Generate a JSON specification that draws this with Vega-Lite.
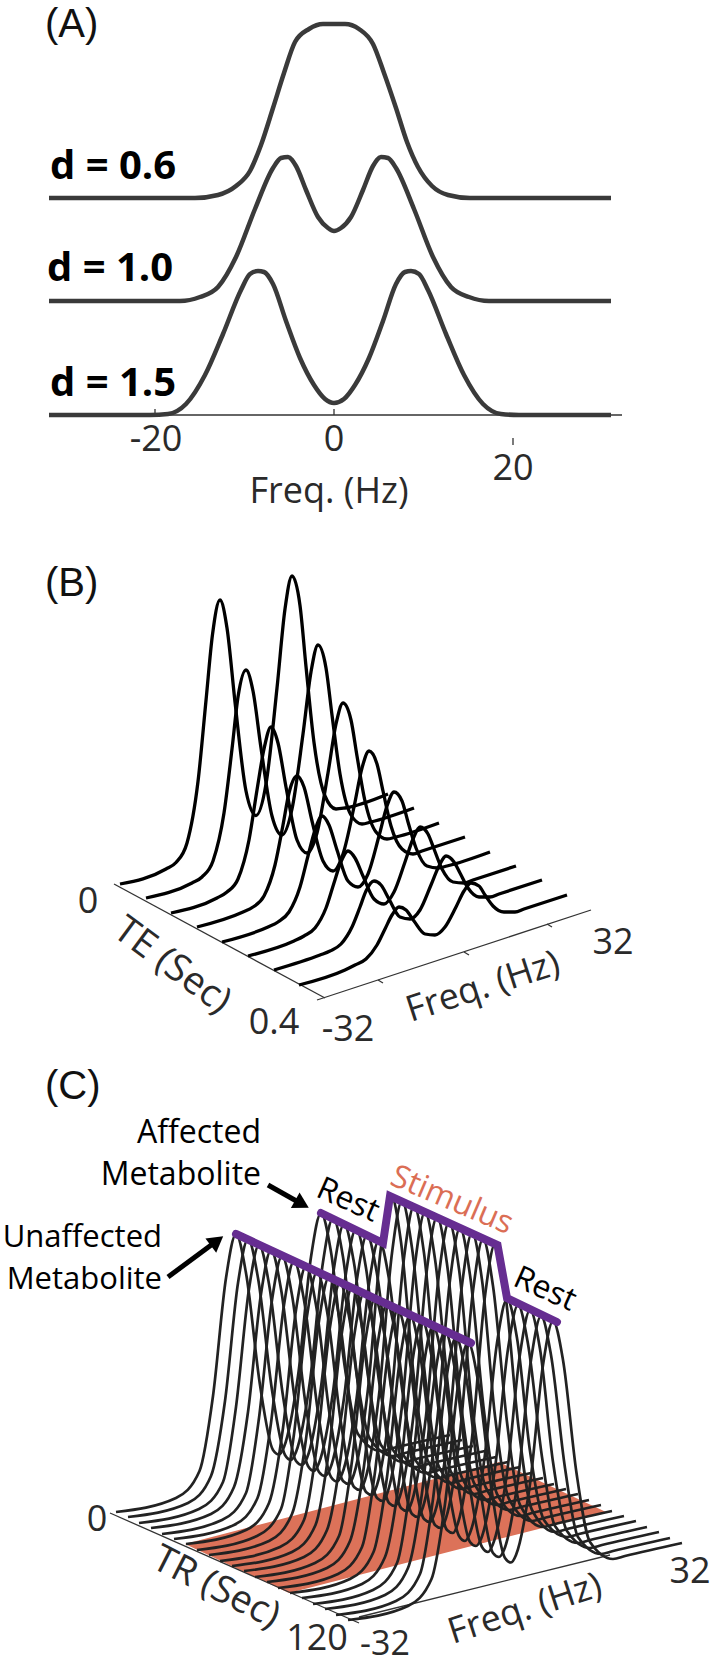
{"$schema":"https://vega.github.io/schema/vega-lite/v6.json","width":712,"height":1667,"padding":0,"autosize":{"type":"none"},"background":"white","config":{"view":{"stroke":null}},
"encoding":{"x":{"field":"x","type":"quantitative","scale":{"domain":[0,712]},"axis":null},"y":{"field":"y","type":"quantitative","scale":{"domain":[1667,0]},"axis":null}},
"layer":[
{"data":{"values":[{"x":185,"y":1544,"y2":1544},{"x":289,"y":1517,"y2":1593},{"x":499,"y":1462,"y2":1539},{"x":606,"y":1512,"y2":1512}]},"mark":{"type":"area","color":"#DC7259","opacity":1},"encoding":{"y2":{"field":"y2"}}},
{"data":{"values":[
{"s":"ax","x":49,"y":415},{"s":"ax","x":622,"y":415},{"s":"t1","x":155,"y":409},{"s":"t1","x":155,"y":415},{"s":"t2","x":334,"y":409},{"s":"t2","x":334,"y":415},{"s":"t3","x":513,"y":438},{"s":"t3","x":513,"y":445},
{"s":"bte","x":114,"y":884},{"s":"bte","x":325,"y":998},{"s":"bf","x":317,"y":1000},{"s":"bf","x":591,"y":910},{"s":"bt1","x":378,"y":980},{"s":"bt1","x":383,"y":983},{"s":"bt2","x":464,"y":952},{"s":"bt2","x":469,"y":955},{"s":"bt3","x":547,"y":924},{"s":"bt3","x":552,"y":927},
{"s":"cte","x":110,"y":1513},{"s":"cte","x":359,"y":1623},{"s":"cf","x":359,"y":1617},{"s":"cf","x":610,"y":1555}
]},"mark":{"type":"line","color":"#333333","strokeWidth":1.3},"encoding":{"detail":{"field":"s"}}},
{"data":{"values":[
{"s":"a1","x":49,"y":198},{"s":"a1","x":195,"y":198},{"s":"a1","x":218,"y":195},{"s":"a1","x":236,"y":186},{"s":"a1","x":250,"y":171},{"s":"a1","x":261,"y":145},{"s":"a1","x":273,"y":108},{"s":"a1","x":284,"y":73},{"s":"a1","x":295,"y":42},{"s":"a1","x":309,"y":29},{"s":"a1","x":323,"y":24},{"s":"a1","x":345,"y":24},{"s":"a1","x":359,"y":29},{"s":"a1","x":373,"y":44},{"s":"a1","x":384,"y":73},{"s":"a1","x":396,"y":108},{"s":"a1","x":407,"y":142},{"s":"a1","x":418,"y":167},{"s":"a1","x":432,"y":186},{"s":"a1","x":448,"y":195},{"s":"a1","x":470,"y":198},{"s":"a1","x":611,"y":198},
{"s":"a2","x":49,"y":301},{"s":"a2","x":180,"y":301},{"s":"a2","x":200,"y":297},{"s":"a2","x":218,"y":287},{"s":"a2","x":236,"y":257},{"s":"a2","x":255,"y":209},{"s":"a2","x":273,"y":168},{"s":"a2","x":281,"y":158},{"s":"a2","x":288,"y":157},{"s":"a2","x":296,"y":166},{"s":"a2","x":306,"y":190},{"s":"a2","x":318,"y":217},{"s":"a2","x":328,"y":228},{"s":"a2","x":334,"y":231},{"s":"a2","x":341,"y":228},{"s":"a2","x":351,"y":217},{"s":"a2","x":363,"y":190},{"s":"a2","x":373,"y":166},{"s":"a2","x":381,"y":157},{"s":"a2","x":388,"y":158},{"s":"a2","x":396,"y":168},{"s":"a2","x":414,"y":209},{"s":"a2","x":433,"y":257},{"s":"a2","x":451,"y":287},{"s":"a2","x":469,"y":297},{"s":"a2","x":489,"y":301},{"s":"a2","x":611,"y":301},
{"s":"a3","x":49,"y":415},{"s":"a3","x":150,"y":415},{"s":"a3","x":168,"y":414},{"s":"a3","x":186,"y":404},{"s":"a3","x":205,"y":375},{"s":"a3","x":223,"y":334},{"s":"a3","x":241,"y":290},{"s":"a3","x":250,"y":274},{"s":"a3","x":258,"y":271},{"s":"a3","x":264,"y":272},{"s":"a3","x":273,"y":284},{"s":"a3","x":286,"y":321},{"s":"a3","x":300,"y":358},{"s":"a3","x":314,"y":385},{"s":"a3","x":325,"y":399},{"s":"a3","x":334,"y":403},{"s":"a3","x":344,"y":399},{"s":"a3","x":355,"y":385},{"s":"a3","x":369,"y":358},{"s":"a3","x":383,"y":321},{"s":"a3","x":396,"y":284},{"s":"a3","x":405,"y":272},{"s":"a3","x":411,"y":271},{"s":"a3","x":419,"y":274},{"s":"a3","x":428,"y":290},{"s":"a3","x":446,"y":334},{"s":"a3","x":464,"y":375},{"s":"a3","x":483,"y":404},{"s":"a3","x":501,"y":414},{"s":"a3","x":519,"y":415},{"s":"a3","x":611,"y":415}
]},"mark":{"type":"line","color":"#3a3a3a","strokeWidth":4.5,"interpolate":"monotone"},"encoding":{"detail":{"field":"s"}}},
{"data":{"values":[
{"s":"b0","x":120,"y":884},{"s":"b0","x":166,"y":869},{"s":"b0","x":176,"y":862.5},{"s":"b0","x":187,"y":843},{"s":"b0","x":198,"y":781.5},{"s":"b0","x":206,"y":700.5},{"s":"b0","x":212.5,"y":634.5},{"s":"b0","x":220,"y":600},{"s":"b0","x":227,"y":628},{"s":"b0","x":235,"y":702},{"s":"b0","x":246,"y":791},{"s":"b0","x":256,"y":815.5},{"s":"b0","x":266,"y":784},{"s":"b0","x":277,"y":688},{"s":"b0","x":285,"y":609},{"s":"b0","x":292,"y":576},{"s":"b0","x":300,"y":605.5},{"s":"b0","x":306,"y":666.5},{"s":"b0","x":314,"y":742.5},{"s":"b0","x":325,"y":796},{"s":"b0","x":336,"y":809},{"s":"b0","x":345,"y":808},{"s":"b0","x":388,"y":794},
{"s":"b1","x":146,"y":898},{"s":"b1","x":192,"y":883},{"s":"b1","x":202,"y":877},{"s":"b1","x":213,"y":861},{"s":"b1","x":224,"y":813},{"s":"b1","x":232,"y":749},{"s":"b1","x":238,"y":697},{"s":"b1","x":246,"y":670},{"s":"b1","x":253,"y":691},{"s":"b1","x":261,"y":748},{"s":"b1","x":272,"y":816},{"s":"b1","x":282,"y":835},{"s":"b1","x":292,"y":809},{"s":"b1","x":303,"y":734},{"s":"b1","x":311,"y":672},{"s":"b1","x":318,"y":645},{"s":"b1","x":326,"y":668},{"s":"b1","x":332,"y":715},{"s":"b1","x":340,"y":774},{"s":"b1","x":351,"y":815},{"s":"b1","x":362,"y":824},{"s":"b1","x":371,"y":822},{"s":"b1","x":414,"y":808},
{"s":"b2","x":171,"y":913},{"s":"b2","x":217,"y":898},{"s":"b2","x":227,"y":892},{"s":"b2","x":238,"y":879},{"s":"b2","x":249,"y":840},{"s":"b2","x":257,"y":790},{"s":"b2","x":264,"y":749},{"s":"b2","x":271,"y":727},{"s":"b2","x":278,"y":743},{"s":"b2","x":286,"y":787},{"s":"b2","x":297,"y":840},{"s":"b2","x":307,"y":853},{"s":"b2","x":317,"y":833},{"s":"b2","x":328,"y":773},{"s":"b2","x":336,"y":724},{"s":"b2","x":343,"y":703},{"s":"b2","x":351,"y":720},{"s":"b2","x":357,"y":756},{"s":"b2","x":365,"y":801},{"s":"b2","x":376,"y":832},{"s":"b2","x":387,"y":839},{"s":"b2","x":396,"y":837},{"s":"b2","x":439,"y":823},
{"s":"b3","x":197,"y":927},{"s":"b3","x":243,"y":912},{"s":"b3","x":253,"y":907},{"s":"b3","x":264,"y":896},{"s":"b3","x":275,"y":865},{"s":"b3","x":283,"y":825},{"s":"b3","x":289,"y":793},{"s":"b3","x":297,"y":776},{"s":"b3","x":304,"y":787},{"s":"b3","x":312,"y":821},{"s":"b3","x":323,"y":861},{"s":"b3","x":333,"y":871},{"s":"b3","x":343,"y":854},{"s":"b3","x":354,"y":807},{"s":"b3","x":362,"y":768},{"s":"b3","x":369,"y":751},{"s":"b3","x":377,"y":764},{"s":"b3","x":383,"y":791},{"s":"b3","x":391,"y":826},{"s":"b3","x":402,"y":849},{"s":"b3","x":413,"y":854},{"s":"b3","x":422,"y":851},{"s":"b3","x":465,"y":837},
{"s":"b4","x":222,"y":942},{"s":"b4","x":268,"y":927},{"s":"b4","x":278,"y":922},{"s":"b4","x":289,"y":912},{"s":"b4","x":300,"y":887},{"s":"b4","x":308,"y":856},{"s":"b4","x":315,"y":830},{"s":"b4","x":322,"y":816},{"s":"b4","x":329,"y":825},{"s":"b4","x":337,"y":850},{"s":"b4","x":348,"y":881},{"s":"b4","x":358,"y":887},{"s":"b4","x":368,"y":874},{"s":"b4","x":379,"y":836},{"s":"b4","x":387,"y":806},{"s":"b4","x":394,"y":792},{"s":"b4","x":402,"y":801},{"s":"b4","x":408,"y":822},{"s":"b4","x":416,"y":848},{"s":"b4","x":427,"y":866},{"s":"b4","x":438,"y":868},{"s":"b4","x":447,"y":866},{"s":"b4","x":490,"y":852},
{"s":"b5","x":248,"y":956},{"s":"b5","x":294,"y":941},{"s":"b5","x":304,"y":936},{"s":"b5","x":315,"y":928},{"s":"b5","x":326,"y":908},{"s":"b5","x":334,"y":883},{"s":"b5","x":340.5,"y":863},{"s":"b5","x":348,"y":851},{"s":"b5","x":355,"y":858},{"s":"b5","x":363,"y":876},{"s":"b5","x":374,"y":899},{"s":"b5","x":384,"y":904},{"s":"b5","x":394,"y":892},{"s":"b5","x":405,"y":862},{"s":"b5","x":413,"y":839},{"s":"b5","x":420,"y":827},{"s":"b5","x":428,"y":834},{"s":"b5","x":434,"y":849},{"s":"b5","x":442,"y":869},{"s":"b5","x":453,"y":882},{"s":"b5","x":464,"y":883},{"s":"b5","x":473,"y":880},{"s":"b5","x":516,"y":866},
{"s":"b6","x":274,"y":970},{"s":"b6","x":320,"y":955},{"s":"b6","x":330,"y":951},{"s":"b6","x":341,"y":944},{"s":"b6","x":352,"y":927},{"s":"b6","x":360,"y":907},{"s":"b6","x":366,"y":891},{"s":"b6","x":374,"y":881},{"s":"b6","x":381,"y":885},{"s":"b6","x":389,"y":899},{"s":"b6","x":400,"y":917},{"s":"b6","x":410,"y":919},{"s":"b6","x":420,"y":910},{"s":"b6","x":431,"y":885},{"s":"b6","x":439,"y":866},{"s":"b6","x":446,"y":856},{"s":"b6","x":454,"y":862},{"s":"b6","x":460,"y":873},{"s":"b6","x":468,"y":888},{"s":"b6","x":479,"y":897},{"s":"b6","x":490,"y":897},{"s":"b6","x":499,"y":894},{"s":"b6","x":542,"y":880},
{"s":"b7","x":299,"y":985},{"s":"b7","x":345,"y":970},{"s":"b7","x":355,"y":965},{"s":"b7","x":366,"y":959},{"s":"b7","x":377,"y":945},{"s":"b7","x":385,"y":929},{"s":"b7","x":392,"y":915},{"s":"b7","x":399,"y":907},{"s":"b7","x":406,"y":910},{"s":"b7","x":414,"y":921},{"s":"b7","x":425,"y":934},{"s":"b7","x":435,"y":935},{"s":"b7","x":445,"y":927},{"s":"b7","x":456,"y":907},{"s":"b7","x":464,"y":891},{"s":"b7","x":471,"y":883},{"s":"b7","x":479,"y":886},{"s":"b7","x":485,"y":895},{"s":"b7","x":493,"y":906},{"s":"b7","x":504,"y":912},{"s":"b7","x":515,"y":912},{"s":"b7","x":524,"y":909},{"s":"b7","x":567,"y":895}
]},"mark":{"type":"line","color":"#000000","strokeWidth":3.3,"interpolate":"monotone"},"encoding":{"detail":{"field":"s"}}},
{"data":{"values":[
{"s":"c00","x":116,"y":1512},{"s":"c00","x":176,"y":1498},{"s":"c00","x":199.5,"y":1471},{"s":"c00","x":213,"y":1396},{"s":"c00","x":226,"y":1278},{"s":"c00","x":236,"y":1234},{"s":"c00","x":246,"y":1273},{"s":"c00","x":260,"y":1385},{"s":"c00","x":273,"y":1450},{"s":"c00","x":279,"y":1454.5},{"s":"c00","x":284,"y":1447},{"s":"c00","x":298,"y":1376},{"s":"c00","x":311,"y":1257},{"s":"c00","x":321,"y":1213},{"s":"c00","x":331,"y":1252},{"s":"c00","x":344.5,"y":1365},{"s":"c00","x":358,"y":1434},{"s":"c00","x":381,"y":1451},{"s":"c00","x":393,"y":1448},{"s":"c00","x":450,"y":1435},
{"s":"c01","x":128,"y":1517},{"s":"c01","x":188,"y":1503},{"s":"c01","x":211,"y":1476},{"s":"c01","x":225,"y":1401},{"s":"c01","x":238,"y":1283},{"s":"c01","x":248,"y":1239},{"s":"c01","x":258,"y":1278},{"s":"c01","x":272,"y":1390},{"s":"c01","x":285,"y":1455},{"s":"c01","x":291,"y":1460},{"s":"c01","x":296,"y":1452},{"s":"c01","x":310,"y":1381},{"s":"c01","x":323,"y":1262},{"s":"c01","x":333,"y":1218},{"s":"c01","x":343,"y":1257},{"s":"c01","x":356,"y":1370},{"s":"c01","x":370,"y":1439},{"s":"c01","x":393,"y":1456},{"s":"c01","x":405,"y":1453},{"s":"c01","x":462,"y":1440},
{"s":"c02","x":139,"y":1523},{"s":"c02","x":199,"y":1509},{"s":"c02","x":223,"y":1482},{"s":"c02","x":236,"y":1407},{"s":"c02","x":249,"y":1289},{"s":"c02","x":259,"y":1245},{"s":"c02","x":269,"y":1284},{"s":"c02","x":283,"y":1396},{"s":"c02","x":296,"y":1461},{"s":"c02","x":302,"y":1465},{"s":"c02","x":307,"y":1458},{"s":"c02","x":321,"y":1387},{"s":"c02","x":334,"y":1268},{"s":"c02","x":344,"y":1224},{"s":"c02","x":354,"y":1263},{"s":"c02","x":368,"y":1376},{"s":"c02","x":381,"y":1445},{"s":"c02","x":404,"y":1462},{"s":"c02","x":416,"y":1459},{"s":"c02","x":473,"y":1446},
{"s":"c03","x":151,"y":1528},{"s":"c03","x":211,"y":1514},{"s":"c03","x":234,"y":1487},{"s":"c03","x":248,"y":1412},{"s":"c03","x":261,"y":1294},{"s":"c03","x":271,"y":1250},{"s":"c03","x":281,"y":1289},{"s":"c03","x":295,"y":1401},{"s":"c03","x":308,"y":1466},{"s":"c03","x":314,"y":1471},{"s":"c03","x":319,"y":1463},{"s":"c03","x":333,"y":1392},{"s":"c03","x":346,"y":1273},{"s":"c03","x":356,"y":1229},{"s":"c03","x":366,"y":1268},{"s":"c03","x":379,"y":1381},{"s":"c03","x":393,"y":1450},{"s":"c03","x":416,"y":1467},{"s":"c03","x":428,"y":1464},{"s":"c03","x":485,"y":1451},
{"s":"c04","x":162,"y":1534},{"s":"c04","x":222,"y":1520},{"s":"c04","x":246,"y":1493},{"s":"c04","x":259,"y":1418},{"s":"c04","x":272,"y":1300},{"s":"c04","x":282,"y":1256},{"s":"c04","x":292,"y":1295},{"s":"c04","x":306,"y":1407},{"s":"c04","x":319,"y":1472},{"s":"c04","x":325,"y":1476},{"s":"c04","x":330,"y":1469},{"s":"c04","x":344,"y":1398},{"s":"c04","x":357,"y":1279},{"s":"c04","x":367,"y":1235},{"s":"c04","x":377,"y":1274},{"s":"c04","x":391,"y":1387},{"s":"c04","x":404,"y":1456},{"s":"c04","x":427,"y":1473},{"s":"c04","x":439,"y":1470},{"s":"c04","x":496,"y":1457},
{"s":"c05","x":174,"y":1539},{"s":"c05","x":234,"y":1525},{"s":"c05","x":257.5,"y":1498},{"s":"c05","x":271,"y":1423},{"s":"c05","x":284,"y":1305},{"s":"c05","x":294,"y":1261},{"s":"c05","x":304,"y":1300},{"s":"c05","x":318,"y":1412},{"s":"c05","x":331,"y":1477},{"s":"c05","x":337,"y":1481.5},{"s":"c05","x":342,"y":1474},{"s":"c05","x":356,"y":1403},{"s":"c05","x":369,"y":1284},{"s":"c05","x":379,"y":1240},{"s":"c05","x":389,"y":1279},{"s":"c05","x":402.5,"y":1392},{"s":"c05","x":416,"y":1461},{"s":"c05","x":439,"y":1478},{"s":"c05","x":451,"y":1475},{"s":"c05","x":508,"y":1462},
{"s":"c06","x":186,"y":1544},{"s":"c06","x":246,"y":1530},{"s":"c06","x":269,"y":1503},{"s":"c06","x":283,"y":1428},{"s":"c06","x":296,"y":1310},{"s":"c06","x":306,"y":1266},{"s":"c06","x":316,"y":1305},{"s":"c06","x":330,"y":1417},{"s":"c06","x":343,"y":1481},{"s":"c06","x":349,"y":1484},{"s":"c06","x":354,"y":1474},{"s":"c06","x":368,"y":1389},{"s":"c06","x":381,"y":1247},{"s":"c06","x":391,"y":1195},{"s":"c06","x":401,"y":1242},{"s":"c06","x":414,"y":1378},{"s":"c06","x":428,"y":1461},{"s":"c06","x":451,"y":1483},{"s":"c06","x":463,"y":1480},{"s":"c06","x":520,"y":1467},
{"s":"c07","x":197,"y":1550},{"s":"c07","x":257,"y":1536},{"s":"c07","x":281,"y":1509},{"s":"c07","x":294,"y":1434},{"s":"c07","x":307,"y":1316},{"s":"c07","x":317,"y":1272},{"s":"c07","x":327,"y":1311},{"s":"c07","x":341,"y":1423},{"s":"c07","x":354,"y":1487},{"s":"c07","x":360,"y":1490},{"s":"c07","x":365,"y":1480},{"s":"c07","x":379,"y":1395},{"s":"c07","x":392,"y":1253},{"s":"c07","x":402,"y":1201},{"s":"c07","x":412,"y":1248},{"s":"c07","x":426,"y":1384},{"s":"c07","x":439,"y":1467},{"s":"c07","x":462,"y":1489},{"s":"c07","x":474,"y":1486},{"s":"c07","x":531,"y":1473},
{"s":"c08","x":209,"y":1555},{"s":"c08","x":269,"y":1541},{"s":"c08","x":292,"y":1514},{"s":"c08","x":306,"y":1439},{"s":"c08","x":319,"y":1321},{"s":"c08","x":329,"y":1277},{"s":"c08","x":339,"y":1316},{"s":"c08","x":353,"y":1428},{"s":"c08","x":366,"y":1492},{"s":"c08","x":372,"y":1495},{"s":"c08","x":377,"y":1485},{"s":"c08","x":391,"y":1400},{"s":"c08","x":404,"y":1258},{"s":"c08","x":414,"y":1206},{"s":"c08","x":424,"y":1253},{"s":"c08","x":437,"y":1389},{"s":"c08","x":451,"y":1472},{"s":"c08","x":474,"y":1494},{"s":"c08","x":486,"y":1491},{"s":"c08","x":543,"y":1478},
{"s":"c09","x":220,"y":1561},{"s":"c09","x":280,"y":1547},{"s":"c09","x":304,"y":1520},{"s":"c09","x":317,"y":1445},{"s":"c09","x":330,"y":1327},{"s":"c09","x":340,"y":1283},{"s":"c09","x":350,"y":1322},{"s":"c09","x":364,"y":1434},{"s":"c09","x":377,"y":1498},{"s":"c09","x":383,"y":1501},{"s":"c09","x":388,"y":1491},{"s":"c09","x":402,"y":1406},{"s":"c09","x":415,"y":1264},{"s":"c09","x":425,"y":1212},{"s":"c09","x":435,"y":1259},{"s":"c09","x":449,"y":1395},{"s":"c09","x":462,"y":1478},{"s":"c09","x":485,"y":1500},{"s":"c09","x":497,"y":1497},{"s":"c09","x":554,"y":1484},
{"s":"c10","x":232,"y":1566},{"s":"c10","x":292,"y":1552},{"s":"c10","x":315.5,"y":1525},{"s":"c10","x":329,"y":1450},{"s":"c10","x":342,"y":1332},{"s":"c10","x":352,"y":1288},{"s":"c10","x":362,"y":1327},{"s":"c10","x":376,"y":1439},{"s":"c10","x":389,"y":1503},{"s":"c10","x":395,"y":1506},{"s":"c10","x":400,"y":1496},{"s":"c10","x":414,"y":1411},{"s":"c10","x":427,"y":1269},{"s":"c10","x":437,"y":1217},{"s":"c10","x":447,"y":1264},{"s":"c10","x":460.5,"y":1400},{"s":"c10","x":474,"y":1483},{"s":"c10","x":497,"y":1505},{"s":"c10","x":509,"y":1502},{"s":"c10","x":566,"y":1489},
{"s":"c11","x":244,"y":1571},{"s":"c11","x":304,"y":1557},{"s":"c11","x":327,"y":1530},{"s":"c11","x":341,"y":1455},{"s":"c11","x":354,"y":1337},{"s":"c11","x":364,"y":1293},{"s":"c11","x":374,"y":1332},{"s":"c11","x":388,"y":1444},{"s":"c11","x":401,"y":1508},{"s":"c11","x":407,"y":1511},{"s":"c11","x":412,"y":1501},{"s":"c11","x":426,"y":1416},{"s":"c11","x":439,"y":1274},{"s":"c11","x":449,"y":1222},{"s":"c11","x":459,"y":1269},{"s":"c11","x":472,"y":1405},{"s":"c11","x":486,"y":1488},{"s":"c11","x":509,"y":1510},{"s":"c11","x":521,"y":1507},{"s":"c11","x":578,"y":1494},
{"s":"c12","x":255,"y":1577},{"s":"c12","x":315,"y":1563},{"s":"c12","x":339,"y":1536},{"s":"c12","x":352,"y":1461},{"s":"c12","x":365,"y":1343},{"s":"c12","x":375,"y":1299},{"s":"c12","x":385,"y":1338},{"s":"c12","x":399,"y":1450},{"s":"c12","x":412,"y":1514},{"s":"c12","x":418,"y":1517},{"s":"c12","x":423,"y":1507},{"s":"c12","x":437,"y":1422},{"s":"c12","x":450,"y":1280},{"s":"c12","x":460,"y":1228},{"s":"c12","x":470,"y":1275},{"s":"c12","x":484,"y":1411},{"s":"c12","x":497,"y":1494},{"s":"c12","x":520,"y":1516},{"s":"c12","x":532,"y":1513},{"s":"c12","x":589,"y":1500},
{"s":"c13","x":267,"y":1582},{"s":"c13","x":327,"y":1568},{"s":"c13","x":350,"y":1541},{"s":"c13","x":364,"y":1466},{"s":"c13","x":377,"y":1348},{"s":"c13","x":387,"y":1304},{"s":"c13","x":397,"y":1343},{"s":"c13","x":411,"y":1455},{"s":"c13","x":424,"y":1519},{"s":"c13","x":430,"y":1522},{"s":"c13","x":435,"y":1512},{"s":"c13","x":449,"y":1427},{"s":"c13","x":462,"y":1285},{"s":"c13","x":472,"y":1233},{"s":"c13","x":482,"y":1280},{"s":"c13","x":495,"y":1416},{"s":"c13","x":509,"y":1499},{"s":"c13","x":532,"y":1521},{"s":"c13","x":544,"y":1518},{"s":"c13","x":601,"y":1505},
{"s":"c14","x":278,"y":1588},{"s":"c14","x":338,"y":1574},{"s":"c14","x":362,"y":1547},{"s":"c14","x":375,"y":1472},{"s":"c14","x":388,"y":1354},{"s":"c14","x":398,"y":1310},{"s":"c14","x":408,"y":1349},{"s":"c14","x":422,"y":1461},{"s":"c14","x":435,"y":1525},{"s":"c14","x":441,"y":1528},{"s":"c14","x":446,"y":1518},{"s":"c14","x":460,"y":1433},{"s":"c14","x":473,"y":1291},{"s":"c14","x":483,"y":1239},{"s":"c14","x":493,"y":1286},{"s":"c14","x":507,"y":1422},{"s":"c14","x":520,"y":1505},{"s":"c14","x":543,"y":1527},{"s":"c14","x":555,"y":1524},{"s":"c14","x":612,"y":1511},
{"s":"c15","x":290,"y":1593},{"s":"c15","x":350,"y":1579},{"s":"c15","x":373.5,"y":1552},{"s":"c15","x":387,"y":1477},{"s":"c15","x":400,"y":1359},{"s":"c15","x":410,"y":1315},{"s":"c15","x":420,"y":1354},{"s":"c15","x":434,"y":1466},{"s":"c15","x":447,"y":1530},{"s":"c15","x":453,"y":1533},{"s":"c15","x":458,"y":1523},{"s":"c15","x":472,"y":1438},{"s":"c15","x":485,"y":1296},{"s":"c15","x":495,"y":1244},{"s":"c15","x":505,"y":1291},{"s":"c15","x":518.5,"y":1427},{"s":"c15","x":532,"y":1510},{"s":"c15","x":555,"y":1532},{"s":"c15","x":567,"y":1529},{"s":"c15","x":624,"y":1516},
{"s":"c16","x":302,"y":1598},{"s":"c16","x":362,"y":1584},{"s":"c16","x":385,"y":1557},{"s":"c16","x":399,"y":1482},{"s":"c16","x":412,"y":1364},{"s":"c16","x":422,"y":1320},{"s":"c16","x":432,"y":1359},{"s":"c16","x":446,"y":1471},{"s":"c16","x":459,"y":1536},{"s":"c16","x":465,"y":1541},{"s":"c16","x":470,"y":1533},{"s":"c16","x":484,"y":1462},{"s":"c16","x":497,"y":1343},{"s":"c16","x":507,"y":1299},{"s":"c16","x":517,"y":1338},{"s":"c16","x":530,"y":1451},{"s":"c16","x":544,"y":1520},{"s":"c16","x":567,"y":1537},{"s":"c16","x":579,"y":1534},{"s":"c16","x":636,"y":1521},
{"s":"c17","x":313,"y":1604},{"s":"c17","x":373,"y":1590},{"s":"c17","x":397,"y":1563},{"s":"c17","x":410,"y":1488},{"s":"c17","x":423,"y":1370},{"s":"c17","x":433,"y":1326},{"s":"c17","x":443,"y":1365},{"s":"c17","x":457,"y":1477},{"s":"c17","x":470,"y":1542},{"s":"c17","x":476,"y":1546},{"s":"c17","x":481,"y":1539},{"s":"c17","x":495,"y":1468},{"s":"c17","x":508,"y":1349},{"s":"c17","x":518,"y":1305},{"s":"c17","x":528,"y":1344},{"s":"c17","x":542,"y":1457},{"s":"c17","x":555,"y":1526},{"s":"c17","x":578,"y":1543},{"s":"c17","x":590,"y":1540},{"s":"c17","x":647,"y":1527},
{"s":"c18","x":325,"y":1609},{"s":"c18","x":385,"y":1595},{"s":"c18","x":408,"y":1568},{"s":"c18","x":422,"y":1493},{"s":"c18","x":435,"y":1375},{"s":"c18","x":445,"y":1331},{"s":"c18","x":455,"y":1370},{"s":"c18","x":469,"y":1482},{"s":"c18","x":482,"y":1547},{"s":"c18","x":488,"y":1552},{"s":"c18","x":493,"y":1544},{"s":"c18","x":507,"y":1473},{"s":"c18","x":520,"y":1354},{"s":"c18","x":530,"y":1310},{"s":"c18","x":540,"y":1349},{"s":"c18","x":553,"y":1462},{"s":"c18","x":567,"y":1531},{"s":"c18","x":590,"y":1548},{"s":"c18","x":602,"y":1545},{"s":"c18","x":659,"y":1532},
{"s":"c19","x":336,"y":1615},{"s":"c19","x":396,"y":1601},{"s":"c19","x":420,"y":1574},{"s":"c19","x":433,"y":1499},{"s":"c19","x":446,"y":1381},{"s":"c19","x":456,"y":1337},{"s":"c19","x":466,"y":1376},{"s":"c19","x":480,"y":1488},{"s":"c19","x":493,"y":1553},{"s":"c19","x":499,"y":1557},{"s":"c19","x":504,"y":1550},{"s":"c19","x":518,"y":1479},{"s":"c19","x":531,"y":1360},{"s":"c19","x":541,"y":1316},{"s":"c19","x":551,"y":1355},{"s":"c19","x":565,"y":1468},{"s":"c19","x":578,"y":1537},{"s":"c19","x":601,"y":1554},{"s":"c19","x":613,"y":1551},{"s":"c19","x":670,"y":1538},
{"s":"c20","x":348,"y":1620},{"s":"c20","x":408,"y":1606},{"s":"c20","x":431.5,"y":1579},{"s":"c20","x":445,"y":1504},{"s":"c20","x":458,"y":1386},{"s":"c20","x":468,"y":1342},{"s":"c20","x":478,"y":1381},{"s":"c20","x":492,"y":1493},{"s":"c20","x":505,"y":1558},{"s":"c20","x":511,"y":1562.5},{"s":"c20","x":516,"y":1555},{"s":"c20","x":530,"y":1484},{"s":"c20","x":543,"y":1365},{"s":"c20","x":553,"y":1321},{"s":"c20","x":563,"y":1360},{"s":"c20","x":576.5,"y":1473},{"s":"c20","x":590,"y":1542},{"s":"c20","x":613,"y":1559},{"s":"c20","x":625,"y":1556},{"s":"c20","x":682,"y":1543}
]},"mark":{"type":"line","color":"#222222","strokeWidth":2.7,"interpolate":"monotone"},"encoding":{"detail":{"field":"s"}}},
{"data":{"values":[
{"s":"affected","x":321,"y":1213},{"s":"affected","x":383,"y":1243},{"s":"affected","x":390,"y":1196},{"s":"affected","x":497.5,"y":1245},{"s":"affected","x":507,"y":1298},{"s":"affected","x":557,"y":1322},
{"s":"unaffected","x":236,"y":1234},{"s":"unaffected","x":471,"y":1343}
]},"mark":{"type":"line","color":"#662D91","strokeWidth":8,"strokeCap":"round"},"encoding":{"detail":{"field":"s"}}},
{"data":{"values":[{"s":"a","x":268,"y":1185},{"s":"a","x":300,"y":1203},{"s":"u","x":168,"y":1277},{"s":"u","x":218,"y":1240}]},"mark":{"type":"line","color":"#000000","strokeWidth":5},"encoding":{"detail":{"field":"s"}}},
{"data":{"values":[{"x":302,"y":1204}]},"mark":{"type":"point","shape":"triangle-up","filled":true,"color":"#000000","opacity":1,"size":320,"angle":119}},
{"data":{"values":[{"x":217,"y":1241}]},"mark":{"type":"point","shape":"triangle-up","filled":true,"color":"#000000","opacity":1,"size":320,"angle":53}},
{"data":{"values":[{"t":"(A)","x":45,"y":37},{"t":"(B)","x":45,"y":596},{"t":"(C)","x":45,"y":1099}]},"mark":{"type":"text","font":"Liberation Sans","fontSize":40,"align":"left","baseline":"alphabetic","color":"#111111"},"encoding":{"text":{"field":"t"}}},
{"data":{"values":[{"t":"d = 0.6","x":50,"y":179},{"t":"d = 1.0","x":47,"y":281},{"t":"d = 1.5","x":50,"y":396}]},"mark":{"type":"text","font":"Open Sans","fontWeight":"bold","fontSize":40,"align":"left","baseline":"alphabetic","color":"#000000"},"encoding":{"text":{"field":"t"}}},
{"data":{"values":[{"t":"-20","x":156,"y":440},{"t":"0","x":334,"y":440},{"t":"20","x":513,"y":469},{"t":"0","x":88,"y":902},{"t":"0.4","x":274,"y":1023},{"t":"-32","x":348,"y":1030},{"t":"32","x":613,"y":943},{"t":"0","x":97,"y":1520},{"t":"120","x":317,"y":1639},{"t":"32","x":690,"y":1572}]},"mark":{"type":"text","font":"Open Sans","fontSize":36,"align":"center","baseline":"middle","color":"#2a2a2a"},"encoding":{"text":{"field":"t"}}},
{"data":{"values":[{"t":"-32","x":385,"y":1645}]},"mark":{"type":"text","font":"Open Sans","fontSize":34,"align":"center","baseline":"middle","color":"#2a2a2a"},"encoding":{"text":{"field":"t"}}},
{"data":{"values":[{"t":"Freq. (Hz)","x":329,"y":503}]},"mark":{"type":"text","font":"Open Sans","fontSize":36,"align":"center","baseline":"alphabetic","color":"#2a2a2a"},"encoding":{"text":{"field":"t"}}},
{"data":{"values":[{"t":"TE (Sec)","x":172,"y":966}]},"mark":{"type":"text","font":"Open Sans","fontSize":38,"align":"center","baseline":"middle","angle":36.5,"color":"#2a2a2a"},"encoding":{"text":{"field":"t"}}},
{"data":{"values":[{"t":"Freq. (Hz)","x":483,"y":987},{"t":"Freq. (Hz)","x":525,"y":1609}]},"mark":{"type":"text","font":"Open Sans","fontSize":36,"align":"center","baseline":"middle","angle":-18,"color":"#2a2a2a"},"encoding":{"text":{"field":"t"}}},
{"data":{"values":[{"t":"TR (Sec)","x":216,"y":1588}]},"mark":{"type":"text","font":"Open Sans","fontSize":38,"align":"center","baseline":"middle","angle":27,"color":"#2a2a2a"},"encoding":{"text":{"field":"t"}}},
{"data":{"values":[{"t":"Affected","x":261,"y":1143},{"t":"Metabolite","x":261,"y":1185}]},"mark":{"type":"text","font":"Open Sans","fontSize":32,"align":"right","baseline":"alphabetic","color":"#000000"},"encoding":{"text":{"field":"t"}}},
{"data":{"values":[{"t":"Unaffected","x":162,"y":1247},{"t":"Metabolite","x":162,"y":1289}]},"mark":{"type":"text","font":"Open Sans","fontSize":31,"align":"right","baseline":"alphabetic","color":"#000000"},"encoding":{"text":{"field":"t"}}},
{"data":{"values":[{"t":"Rest","x":348,"y":1200},{"t":"Rest","x":545,"y":1289}]},"mark":{"type":"text","font":"Open Sans","fontSize":32,"align":"center","baseline":"middle","angle":24,"color":"#000000"},"encoding":{"text":{"field":"t"}}},
{"data":{"values":[{"t":"Stimulus","x":452,"y":1200}]},"mark":{"type":"text","font":"Open Sans","fontSize":32,"align":"center","baseline":"middle","angle":23,"color":"#DB6E55"},"encoding":{"text":{"field":"t"}}}
]}
